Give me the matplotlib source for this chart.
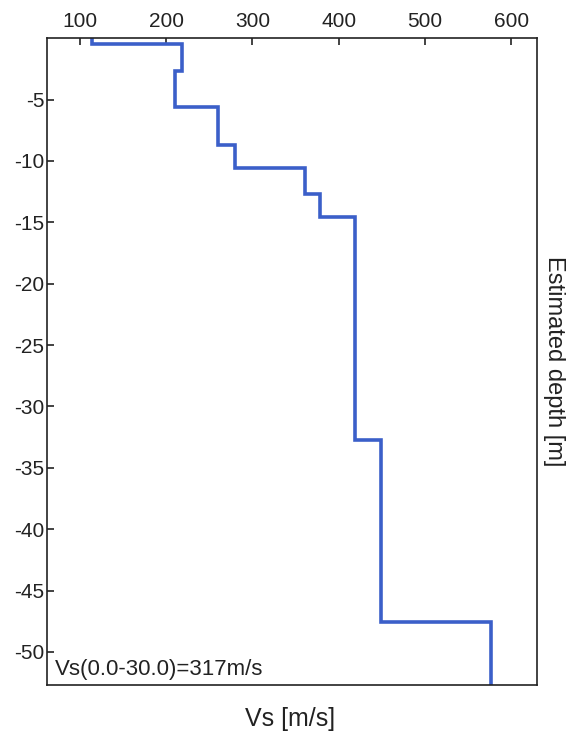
import numpy as np
import matplotlib
matplotlib.use("Agg")
from matplotlib import pyplot as plt

# layer boundaries (m, below surface) and shear-wave velocity per layer (m/s)
layer_top = [0.0, 0.5, 2.7, 5.6, 8.7, 10.6, 12.7, 14.6, 32.7, 47.6]
layer_bottom = [0.5, 2.7, 5.6, 8.7, 10.6, 12.7, 14.6, 32.7, 47.6, 60.0]
vs_layer = [114, 219, 210, 260, 280, 361, 378, 419, 449, 577]

x_ticks = [100, 200, 300, 400, 500, 600]
y_ticks = [-5, -10, -15, -20, -25, -30, -35, -40, -45, -50]
vs30_text = "Vs(0.0-30.0)=317m/s"

plt.rcParams['font.family'] = ['Liberation Sans', 'DejaVu Sans']

fig = plt.figure(figsize=(5.74, 7.35), dpi=100)
ax = fig.add_axes([0.082, 0.068, 0.8535, 0.880])

# profile as a staircase: each layer is a vertical segment at its velocity
xs = np.repeat(vs_layer, 2)
ys = -np.column_stack([layer_top, layer_bottom]).ravel()
ax.plot(xs, ys, color='#3b5fc9', linewidth=2.6, solid_joinstyle='miter')

ax.set_xlim(62, 630)
ax.set_ylim(-52.7, 0)
ax.set_xticks(x_ticks)
ax.set_yticks(y_ticks)
ax.set_yticklabels([str(t) for t in y_ticks])

ax.xaxis.tick_top()
ax.tick_params(axis='x', direction='in', length=5, width=1.2, labelsize=15, pad=5, colors='#222222')
ax.tick_params(axis='y', direction='in', length=5, width=1.2, labelsize=15, pad=2, colors='#222222')
for s in ax.spines.values():
    s.set_linewidth(1.2)
    s.set_color('#222222')

ax.yaxis.set_label_position('right')
ax.set_ylabel("Estimated depth [m]", rotation=270, fontsize=17, labelpad=20, color='#222222')
fig.text(0.505, 0.022, "Vs [m/s]", ha='center', va='center', fontsize=18, color='#222222')

ax.text(0.017, 0.008, vs30_text, transform=ax.transAxes, ha='left', va='bottom',
        fontsize=16, color='#222222')

fig.savefig("out.png", dpi=100)
